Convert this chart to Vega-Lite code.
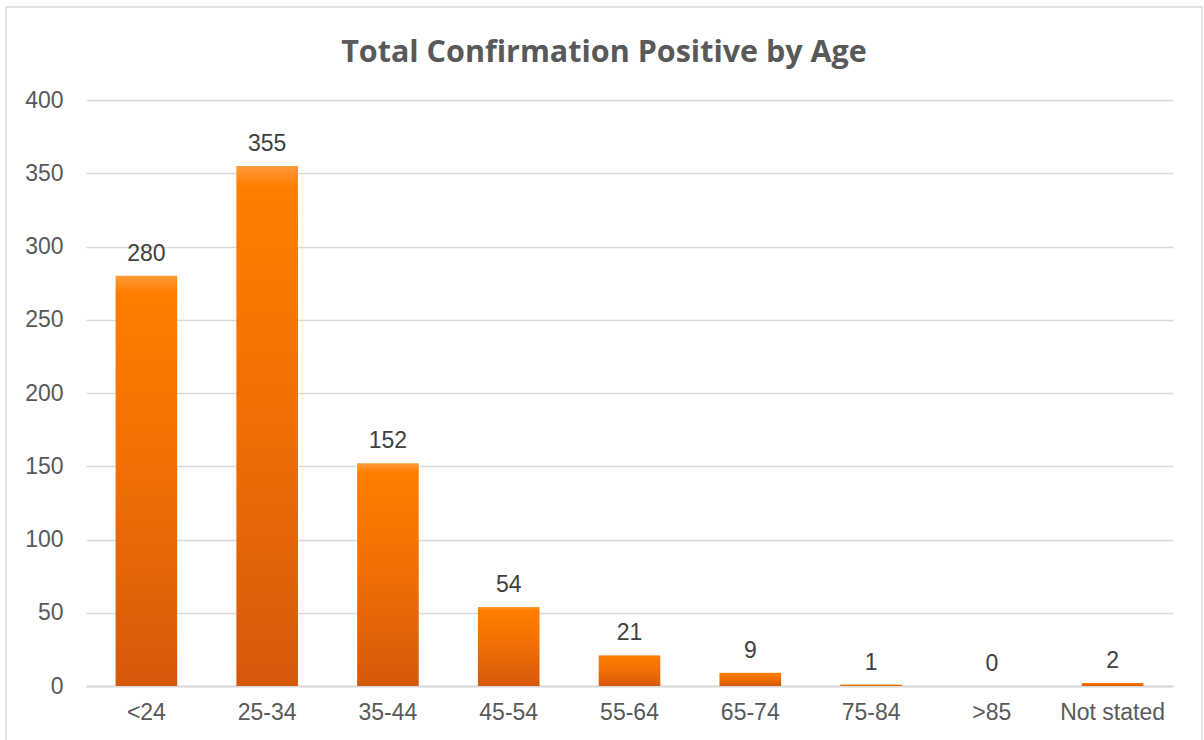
{
  "$schema": "https://vega.github.io/schema/vega-lite/v6.json",
  "autosize": {"type": "none"},
  "width": 1196,
  "height": 734,
  "padding": {"left": 6, "top": 7, "right": 2, "bottom": -1},
  "background": "white",
  "config": {
    "view": {"stroke": "#D9D9D9", "strokeWidth": 1.5},
    "font": "Liberation Sans"
  },
  "title": {
    "text": "Total Confirmation Positive by Age",
    "font": "Open Sans",
    "fontWeight": "bold",
    "fontSize": 30.5,
    "color": "#595959",
    "anchor": "middle",
    "frame": "group",
    "offset": -61
  },
  "data": {
    "values": [
      {"age": "<24", "count": 280},
      {"age": "25-34", "count": 355},
      {"age": "35-44", "count": 152},
      {"age": "45-54", "count": 54},
      {"age": "55-64", "count": 21},
      {"age": "65-74", "count": 9},
      {"age": "75-84", "count": 1},
      {"age": ">85", "count": 0},
      {"age": "Not stated", "count": 2}
    ]
  },
  "encoding": {
    "x": {
      "field": "age",
      "type": "nominal",
      "sort": null,
      "title": null,
      "scale": {"range": [80, 1167], "paddingInner": 0.49, "paddingOuter": 0.245},
      "axis": {
        "offset": -55,
        "domainColor": "#D9D9D9",
        "domainWidth": 2,
        "ticks": false,
        "tickSize": 0,
        "labelPadding": 15,
        "labelAngle": 0,
        "labelFontSize": 23,
        "labelColor": "#595959",
        "grid": false
      }
    },
    "y": {
      "field": "count",
      "type": "quantitative",
      "title": null,
      "scale": {"domain": [0, 400], "range": [679, 93], "nice": false},
      "axis": {
        "values": [0, 50, 100, 150, 200, 250, 300, 350, 400],
        "offset": -57,
        "domain": false,
        "ticks": false,
        "tickSize": 0,
        "labelPadding": 0,
        "labelFontSize": 23,
        "labelColor": "#595959",
        "gridColor": "#D9D9D9",
        "gridWidth": 1.5
      }
    }
  },
  "layer": [
    {
      "mark": {
        "type": "bar",
        "color": {
          "gradient": "linear",
          "x1": 0, "y1": 0, "x2": 0, "y2": 1,
          "stops": [
            {"offset": 0, "color": "#FF9A3A"},
            {"offset": 0.04, "color": "#FF7E00"},
            {"offset": 0.5, "color": "#F06E04"},
            {"offset": 1, "color": "#D6580C"}
          ]
        }
      }
    },
    {
      "mark": {
        "type": "text",
        "baseline": "alphabetic",
        "dy": -15,
        "fontSize": 23,
        "color": "#404040"
      },
      "encoding": {"text": {"field": "count", "type": "quantitative"}}
    }
  ]
}
